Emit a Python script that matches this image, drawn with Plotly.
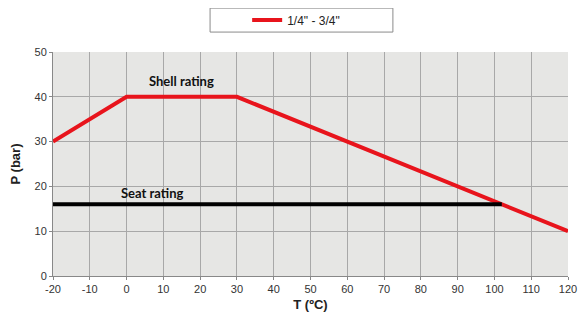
import plotly.graph_objects as go

# shell rating (red) and seat rating (black)
shell_t = [-20, 0, 30, 120]
shell_p = [30, 40, 40, 10]
seat_t = [-20, 102]
seat_p = [16, 16]

x_ticks = list(range(-20, 121, 10))
y_ticks = list(range(0, 51, 10))

fig = go.Figure()
fig.add_trace(go.Scatter(x=shell_t, y=shell_p, mode='lines', name='1/4" - 3/4"',
                         line=dict(color='#e8141c', width=4)))
fig.add_trace(go.Scatter(x=seat_t, y=seat_p, mode='lines', showlegend=False,
                         line=dict(color='#000000', width=4)))

fig.add_annotation(x=15, y=43.5, text='Shell rating', showarrow=False,
                   font=dict(family='Lato', size=13, color='#111111', weight='bold'))
fig.add_annotation(x=7, y=18.6, text='Seat rating', showarrow=False,
                   font=dict(family='Lato', size=13, color='#111111', weight='bold'))

# legend frame
fig.add_shape(type='rect', xref='paper', yref='paper',
              x0=0.305, x1=0.660, y0=1.089, y1=1.196,
              line=dict(color='#8a8a8a', width=1), fillcolor='white', layer='below')

# page body adds an 8px margin all round, so keep the figure inside the window
fig.update_layout(
    width=570, height=304,
    margin=dict(l=45, r=10, t=44, b=36),
    paper_bgcolor='white',
    plot_bgcolor='#e6e6e4',
    font=dict(family='Liberation Sans', size=11, color='#333333'),
    showlegend=True,
    legend=dict(orientation='h', x=0.377, xanchor='left',
                y=1 - 12 / 304, yref='container', yanchor='middle',
                borderwidth=0, bgcolor='rgba(0,0,0,0)',
                font=dict(size=12, color='#222222')),
    xaxis=dict(range=[-20, 120], tickvals=x_ticks,
               ticktext=[str(v) for v in x_ticks], showgrid=True,
               gridcolor='#a8a8a8', gridwidth=1, zeroline=False, automargin=False,
               showline=True, linecolor='#888888', ticks='outside',
               ticklen=3, tickcolor='#888888',
               title=dict(text='<b>T (ºC)</b>', font=dict(size=13, color='#222222'),
                          standoff=7)),
    yaxis=dict(range=[0, 50], tickvals=y_ticks, showgrid=True,
               gridcolor='#a8a8a8', gridwidth=1, zeroline=False, automargin=False,
               showline=True, linecolor='#888888', ticks='outside',
               ticklen=3, tickcolor='#888888',
               title=dict(text='<b>P (bar)</b>', font=dict(size=13, color='#222222'),
                          standoff=13)),
)

fig.write_html("out.html")
